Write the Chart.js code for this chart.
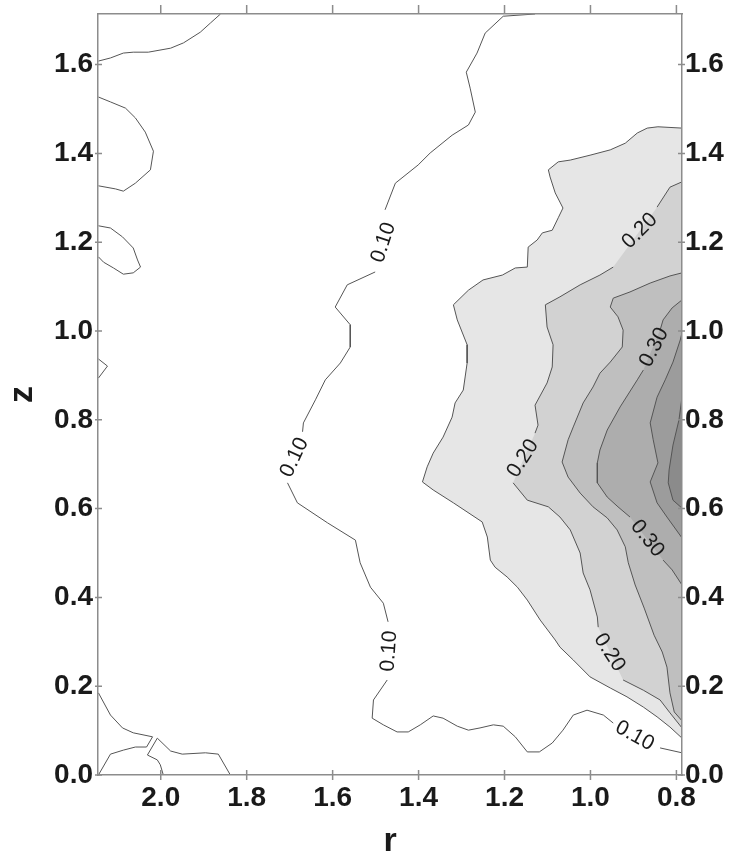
<!DOCTYPE html>
<html><head><meta charset="utf-8">
<script src="https://cdn.jsdelivr.net/npm/chart.js@4.4.1/dist/chart.umd.min.js"></script>
<style>html,body{margin:0;padding:0;background:#fff;}canvas{display:block;}</style>
</head><body>
<canvas id="c" width="729" height="862"></canvas>
<script>
// axes
const rRange = [0.787, 2.146];
const zRange = [0, 1.714];
const rTicks = [2.0, 1.8, 1.6, 1.4, 1.2, 1.0, 0.8];
const zTicks = [0.0, 0.2, 0.4, 0.6, 0.8, 1.0, 1.2, 1.4, 1.6];

// contour 0.10 (null = break for a label)
const contour010a = [[1.129,1.714],[1.203,1.709],[1.245,1.671],[1.264,1.626],[1.289,1.583],[1.280,1.547],[1.268,1.493],[1.284,1.464],[1.322,1.441],[1.373,1.401],[1.401,1.374],[1.454,1.333],[1.478,1.273],null,[1.501,1.133],[1.566,1.104],[1.594,1.054],[1.559,1.014],[1.559,0.964],[1.582,0.928],[1.617,0.890],[1.640,0.845],[1.668,0.793],[1.670,0.773],null,[1.705,0.658],[1.682,0.613],[1.612,0.568],[1.547,0.529],[1.536,0.478],[1.512,0.423],[1.482,0.387],[1.471,0.345],null,[1.473,0.214],[1.505,0.169],[1.508,0.128],[1.482,0.113],[1.450,0.097],[1.424,0.097],[1.396,0.113],[1.366,0.133],[1.343,0.128],[1.310,0.110],[1.284,0.101],[1.257,0.106],[1.226,0.113],[1.203,0.110],[1.175,0.086],[1.147,0.052],[1.119,0.052],[1.089,0.072],[1.064,0.101],[1.040,0.135],[1.008,0.146],[0.970,0.135],[0.947,0.117],null,[0.838,0.061],[0.787,0.050]];
const contour010b = [[2.145,1.608],[2.117,1.615],[2.087,1.626],[2.064,1.628],[2.029,1.628],[1.977,1.637],[1.947,1.649],[1.908,1.673],[1.884,1.694],[1.861,1.714]];
const contour010c = [[2.145,1.527],[2.117,1.516],[2.082,1.502],[2.059,1.480],[2.036,1.448],[2.017,1.405],[2.024,1.363],[2.059,1.333],[2.087,1.315],[2.105,1.320],[2.145,1.327]];
const contour010d = [[2.145,1.237],[2.117,1.232],[2.089,1.212],[2.064,1.187],[2.054,1.160],[2.047,1.144],[2.064,1.131],[2.087,1.128],[2.110,1.142],[2.133,1.155],[2.145,1.167]];
const contour010e = [[2.145,0.937],[2.124,0.921],[2.145,0.894]];
const contour010f = [[2.145,0.185],[2.117,0.135],[2.089,0.106],[2.064,0.095],[2.019,0.086],[2.033,0.063],[2.059,0.063],[2.087,0.056],[2.117,0.047],[2.145,0.0]];
const contour010g = [[1.838,0.0],[1.866,0.047],[1.896,0.050],[1.950,0.047],[1.977,0.054],[2.008,0.083],[2.031,0.045],[2.008,0.034],[2.001,0.023],[1.994,0.0]];

// filled contours
const contour015 = [[0.787,1.457],[0.843,1.460],[0.868,1.457],[0.891,1.446],[0.919,1.423],[0.954,1.408],[1.001,1.396],[1.047,1.385],[1.075,1.381],[1.098,1.363],[1.094,1.347],[1.082,1.311],[1.064,1.277],[1.075,1.255],[1.089,1.227],[1.112,1.221],[1.124,1.205],[1.145,1.189],[1.147,1.144],[1.175,1.142],[1.205,1.126],[1.250,1.115],[1.284,1.092],[1.319,1.059],[1.310,1.025],[1.287,0.969],[1.287,0.928],[1.296,0.867],[1.315,0.838],[1.322,0.806],[1.343,0.761],[1.366,0.725],[1.380,0.694],[1.391,0.660],[1.366,0.642],[1.319,0.613],[1.252,0.570],[1.240,0.536],[1.233,0.484],[1.222,0.468],[1.194,0.446],[1.170,0.423],[1.147,0.394],[1.117,0.349],[1.082,0.304],[1.071,0.288],[1.040,0.259],[1.001,0.221],[0.954,0.196],[0.915,0.176],[0.877,0.153],[0.845,0.131],[0.815,0.108],[0.787,0.083]];
const contour020 = [[0.787,1.336],[0.815,1.324],[0.845,1.279],null,[0.947,1.144],[0.978,1.126],[1.024,1.104],[1.071,1.077],[1.105,1.059],[1.101,1.009],[1.087,0.969],[1.089,0.919],[1.101,0.883],[1.129,0.833],[1.122,0.788],[1.129,0.770],null,[1.180,0.658],[1.147,0.619],[1.098,0.604],[1.071,0.581],[1.047,0.552],[1.024,0.500],[1.017,0.455],[1.001,0.417],[0.984,0.356],[0.982,0.333],null,[0.924,0.214],[0.877,0.191],[0.838,0.169],[0.815,0.140],[0.787,0.106]];
const contour025 = [[0.787,1.131],[0.815,1.124],[0.861,1.108],[0.908,1.088],[0.947,1.074],[0.954,1.054],[0.936,1.032],[0.924,1.002],[0.926,0.964],[0.954,0.930],[0.978,0.905],[0.994,0.874],[1.017,0.838],[1.040,0.784],[1.052,0.755],[1.066,0.705],[1.052,0.671],[1.024,0.635],[0.994,0.604],[0.961,0.579],[0.938,0.552],[0.919,0.514],[0.912,0.478],[0.896,0.428],[0.875,0.376],[0.852,0.315],[0.833,0.277],[0.822,0.243],[0.815,0.185],[0.805,0.142],[0.787,0.122]];
const contour030 = [[0.787,1.070],[0.810,1.052],[0.831,1.025],[0.838,1.002],null,[0.877,0.912],[0.891,0.890],[0.931,0.829],[0.961,0.777],[0.978,0.732],[0.984,0.703],[0.984,0.658],[0.961,0.626],[0.936,0.604],[0.908,0.581],null,[0.831,0.484],[0.810,0.462],[0.787,0.428]];
const contour035 = [[0.787,0.996],[0.791,0.980],[0.808,0.930],[0.826,0.890],[0.845,0.851],[0.861,0.793],[0.854,0.755],[0.843,0.703],[0.861,0.660],[0.845,0.613],[0.822,0.581],[0.787,0.534]];
const contour040 = [[0.787,0.851],[0.794,0.800],[0.808,0.743],[0.817,0.687],[0.819,0.658],[0.808,0.619],[0.787,0.601]];

const fillContours = [contour015, contour020, contour025, contour030, contour035, contour040];
const fillColors = ['#e6e6e6', '#d2d2d2', '#bfbfbf', '#adadad', '#9c9c9c', '#8b8b8b'];
const lineContours = [contour010a, contour010b, contour010c, contour010d, contour010e, contour010f, contour010g,
                      contour015, contour020, contour025, contour030, contour035, contour040];

// inline contour labels: text, r, z, angle (deg)
const labelText  = ['0.10','0.10','0.10','0.10','0.20','0.20','0.20','0.30','0.30'];
const labelR     = [1.484, 1.691, 1.471, 0.896, 0.887, 1.159, 0.954, 0.854, 0.866];
const labelZ     = [1.200, 0.716, 0.279, 0.090, 1.227, 0.714, 0.277, 0.964, 0.534];
const labelAngle = [-72, -65, -86, 29, -45, -57, 57, -63, 51];

const toPts = arr => arr.map(p => p ? {x: p[0], y: p[1]} : {x: null, y: null});

const datasets = [];
fillContours.forEach((arr, i) => {
  datasets.push({
    data: toPts(arr.filter(p => p)),
    fill: 'shape', backgroundColor: fillColors[i],
    borderColor: 'rgba(0,0,0,0)', borderWidth: 0, pointRadius: 0, tension: 0,
    order: 20 - i
  });
});
lineContours.forEach(arr => {
  datasets.push({
    data: toPts(arr), fill: false, borderColor: '#555555', borderWidth: 1,
    pointRadius: 0, tension: 0, spanGaps: false, order: 1
  });
});

const FRAME = '#8c8c8c';
const TXT = '#1a1a1a';
const tickFont = {family: "'Liberation Sans', Arial, sans-serif", size: 28, weight: 'bold'};
const titleFont = {family: "'Liberation Sans', Arial, sans-serif", size: 34, weight: 'bold'};
const fmt = v => Number(v).toFixed(1);

const tickPlugin = {
  id: 'crossTicks',
  afterDraw(chart) {
    const {ctx, chartArea: a, scales} = chart;
    ctx.save();
    ctx.strokeStyle = FRAME; ctx.lineWidth = 1.5;
    ctx.beginPath();
    rTicks.forEach(v => {
      const p = scales.x.getPixelForValue(v);
      ctx.moveTo(p, a.bottom - 5); ctx.lineTo(p, a.bottom + 5);
      ctx.moveTo(p, a.top - 9); ctx.lineTo(p, a.top);
    });
    zTicks.forEach(v => {
      const p = scales.y.getPixelForValue(v);
      ctx.moveTo(a.left - 3, p); ctx.lineTo(a.left + 4, p);
      ctx.moveTo(a.right - 4, p); ctx.lineTo(a.right + 3, p);
    });
    ctx.stroke();
    ctx.restore();
  }
};

const labelPlugin = {
  id: 'contourLabels',
  afterDatasetsDraw(chart) {
    const {ctx, scales} = chart;
    ctx.save();
    ctx.font = "21px 'Liberation Sans', Arial, sans-serif";
    ctx.fillStyle = TXT;
    ctx.textAlign = 'center';
    ctx.textBaseline = 'middle';
    labelText.forEach((t, i) => {
      const px = scales.x.getPixelForValue(labelR[i]);
      const py = scales.y.getPixelForValue(labelZ[i]);
      ctx.save();
      ctx.translate(px, py);
      ctx.rotate(labelAngle[i] * Math.PI / 180);
      ctx.fillText(t, 0, 1);
      ctx.restore();
    });
    ctx.restore();
  }
};

const noPad = s => { s.paddingTop = 0; s.paddingBottom = 0; s.paddingLeft = 0; s.paddingRight = 0; };

const xCommon = {
  type: 'linear', reverse: true, min: rRange[0], max: rRange[1],
  afterBuildTicks: s => { s.ticks = rTicks.map(v => ({value: v})); },
  grid: {display: false, drawTicks: false},
  border: {display: true, color: FRAME, width: 1.5, z: 1}
};
const yCommon = {
  type: 'linear', min: zRange[0], max: zRange[1],
  afterBuildTicks: s => { s.ticks = zTicks.map(v => ({value: v})); },
  grid: {display: false, drawTicks: false},
  border: {display: true, color: FRAME, width: 1.5, z: 1}
};

new Chart(document.getElementById('c'), {
  type: 'line',
  data: {datasets},
  options: {
    responsive: false, animation: false, devicePixelRatio: 1,
    layout: {padding: 0},
    plugins: {legend: {display: false}, tooltip: {enabled: false}},
    events: [],
    scales: {
      x: Object.assign({}, xCommon, {
        position: 'bottom',
        ticks: {font: tickFont, color: TXT, padding: 6, maxRotation: 0, autoSkip: false, callback: fmt},
        title: {display: true, text: 'r', font: titleFont, color: TXT, padding: {top: 0, bottom: 0}},
        afterFit: s => { s.height = 87; noPad(s); }
      }),
      x2: Object.assign({}, xCommon, {
        position: 'top',
        ticks: {display: false},
        afterFit: s => { s.height = 14; noPad(s); }
      }),
      y: Object.assign({}, yCommon, {
        position: 'left',
        ticks: {font: tickFont, color: TXT, padding: 5, autoSkip: false, callback: fmt},
        title: {display: true, text: 'z', font: titleFont, color: TXT, padding: {top: 2, bottom: 0}},
        afterFit: s => { s.width = 98; noPad(s); }
      }),
      y2: Object.assign({}, yCommon, {
        position: 'right',
        ticks: {font: tickFont, color: TXT, padding: 3, autoSkip: false, callback: fmt},
        afterFit: s => { s.width = 47; noPad(s); }
      })
    }
  },
  plugins: [tickPlugin, labelPlugin]
});
</script>
</body></html>
